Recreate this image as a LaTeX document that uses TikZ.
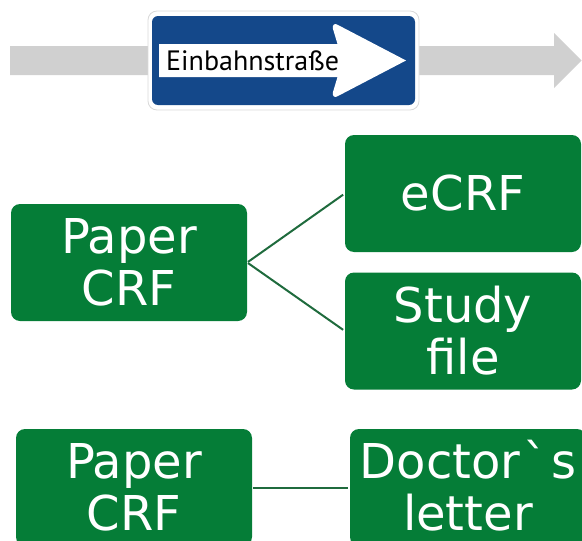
\documentclass[tikz,border=0pt]{standalone}
\usepackage{fontspec}
\setmainfont{DejaVu Sans}
\newfontfamily\gravefont{DejaVu Sans}
\newfontfamily\signfont{PT Sans}
\definecolor{boxgreen}{HTML}{057D37}
\definecolor{linegreen}{HTML}{1F6B3D}
\definecolor{signblue}{HTML}{14488A}
\definecolor{roadgray}{HTML}{D0D0D0}
\begin{document}
\begin{tikzpicture}[x=1pt,y=-1pt]
\tikzstyle{every node}=[]
\tikzstyle{crfbox}=[fill=boxgreen, text=white, rounded corners=9pt, inner sep=0pt, minimum width=236pt, minimum height=117pt, align=center, font=\fontsize{48}{52}\selectfont]
\tikzstyle{crfline}=[draw=linegreen, line width=2pt, shorten <=1pt, shorten >=2pt]

\useasboundingbox (0,0) rectangle (582,541);
\clip (0,0) rectangle (582,541);

% road and sign
\fill[roadgray] (10,46) -- (554,46) -- (554,33) -- (581.5,60.5) -- (554,88) -- (554,75) -- (10,75) -- cycle;
\node[fill=white, draw=black!15, line width=0.8pt, rounded corners=9pt, inner sep=0pt, minimum width=271pt, minimum height=99pt] (sign) at (283.5,60.5) {};
\node[fill=signblue, rounded corners=6pt, inner sep=0pt, minimum width=263pt, minimum height=89pt] (blue) at (283.5,60.5) {};
\fill[white] (159,44) -- (337.5,44) -- (333,29) .. controls (332,24) and (335,23) .. (338,25) -- (406,60.5) -- (338,96) .. controls (335,98) and (332,97) .. (333,92) -- (337.5,77) -- (159,77) -- cycle;
\node[anchor=west, inner sep=0pt, font=\fontsize{28}{28}\signfont] (einbahn) at (166,61) {Einbahnstraße};

\node[crfbox] (npa) at (129,262.5) {Paper\\CRF};
\node[crfbox] (nec) at (463,193.5) {eCRF};
\node[crfbox] (nsf) at (463,331)   {Study\\file};
\node[crfbox] (npb) at (134,487.5) {Paper\\CRF};
\node[crfbox] (ndl) at (468,487.5) {Doctor\kern3pt\smash{\gravefont`}\kern4pt s\\letter};

\draw[crfline] (npa.east) -- (nec.west);
\draw[crfline] (npa.east) -- (nsf.west);
\draw[crfline] (npb.east) -- (ndl.west);
\end{tikzpicture}
\end{document}
